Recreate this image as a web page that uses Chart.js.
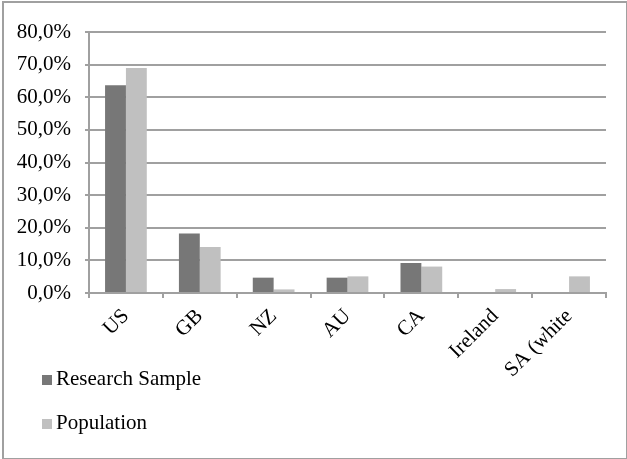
<!DOCTYPE html>
<html>
<head>
<meta charset="utf-8">
<script src="https://cdn.jsdelivr.net/npm/chart.js@4/dist/chart.umd.min.js"></script>
<style>
  html, body { margin: 0; padding: 0; background: #fff; }
  #wrap { position: relative; width: 627px; height: 459px; }
  #frame { position: absolute; left: 2px; top: 1px; width: 622px; height: 455px; border: 2px solid #a0a0a0; box-sizing: content-box; pointer-events: none; }
  canvas { position: absolute; left: 0; top: 0; }
  .legtext { position: absolute; left: 56px; font-family: "Liberation Serif", "Times New Roman", serif; font-size: 21px; color: #000; line-height: 21px; white-space: nowrap; }
  .legbox { position: absolute; left: 42px; width: 10px; height: 10px; }
</style>
</head>
<body>
<div id="wrap">
  <canvas id="c" width="627" height="459"></canvas>
  <div id="frame"></div>
  <div id="legend"></div>
</div>
<script>
const categories = ["US", "GB", "NZ", "AU", "CA", "Ireland", "SA (white"];
const researchSample = [63.7, 18.2, 4.7, 4.7, 9.2, 0, 0];
const population = [69.0, 14.1, 1.1, 5.1, 8.1, 1.2, 5.1];
const seriesNames = ["Research Sample", "Population"];
const seriesColors = ["#777777", "#c0c0c0"];

const serif = "'Liberation Serif', 'Times New Roman', serif";

const chart = new Chart(document.getElementById('c'), {
  type: 'bar',
  data: {
    labels: categories,
    datasets: [
      { label: seriesNames[0], data: researchSample, backgroundColor: seriesColors[0], categoryPercentage: 0.565, barPercentage: 1.0 },
      { label: seriesNames[1], data: population, backgroundColor: seriesColors[1], categoryPercentage: 0.565, barPercentage: 1.0 }
    ]
  },
  options: {
    responsive: false,
    animation: false,
    events: [],
    layout: { padding: { left: 0, right: 21, top: 32, bottom: 76 } },
    plugins: { legend: { display: false }, tooltip: { enabled: false } },
    scales: {
      x: {
        grid: { offset: true, drawOnChartArea: false, drawTicks: true, tickLength: 5, color: '#a0a0a0', lineWidth: 2 },
        border: { display: true, color: '#a0a0a0', width: 2 },
        ticks: { minRotation: 45, maxRotation: 45, autoSkip: false, color: '#000', font: { family: serif, size: 21 }, padding: 6 },
        afterFit: (s) => { s.height = 90; }
      },
      y: {
        min: 0, max: 80,
        grid: { color: '#a0a0a0', lineWidth: 2, tickLength: 4, drawTicks: true },
        border: { display: true, color: '#a0a0a0', width: 2 },
        ticks: { stepSize: 10, color: '#000', font: { family: serif, size: 21 }, padding: 14,
          callback: (v) => v.toFixed(1).replace('.', ',') + '%' },
        afterFit: (s) => { s.width = 89; }
      }
    }
  }
});

const legend = document.getElementById('legend');
const legendBaselines = [386, 430];
seriesNames.forEach((n, i) => {
  const b = document.createElement('div');
  b.className = 'legbox';
  b.style.top = (legendBaselines[i] - 11) + 'px';
  b.style.background = seriesColors[i];
  legend.appendChild(b);
  const t = document.createElement('div');
  t.className = 'legtext';
  t.style.top = (legendBaselines[i] - 18) + 'px';
  t.textContent = n;
  legend.appendChild(t);
});
</script>
</body>
</html>
